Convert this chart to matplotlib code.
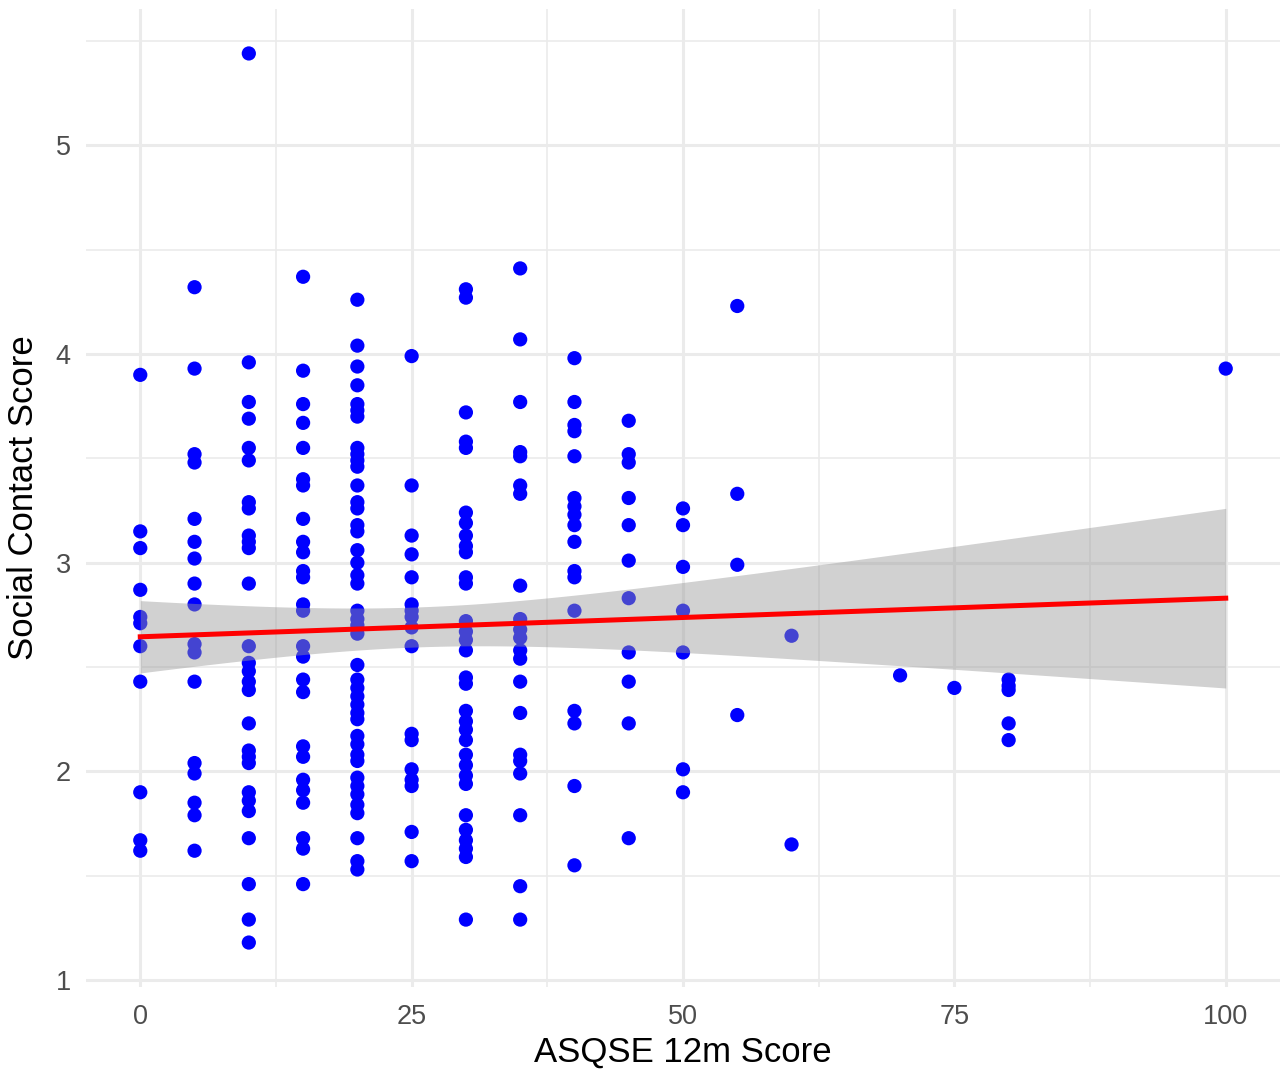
import numpy as np
import matplotlib
matplotlib.use("Agg")
import matplotlib.pyplot as plt
from matplotlib.ticker import MultipleLocator

# ASQSE 12m score levels and the Social Contact Scores observed at each level
asq_levels = [0, 5, 10, 15, 20, 25, 30, 35, 40, 45, 50, 55, 60, 70, 75, 80, 100]
scores_0 = [3.90, 3.15, 3.07, 2.87, 2.74, 2.71, 2.60, 2.43, 1.90, 1.67, 1.62]
scores_5 = [4.32, 3.93, 3.52, 3.48, 3.21, 3.10, 3.02, 2.90, 2.80, 2.61, 2.57, 2.43,
            2.04, 1.99, 1.85, 1.79, 1.62]
scores_10 = [5.44, 3.96, 3.77, 3.69, 3.55, 3.49, 3.29, 3.26, 3.13, 3.10, 3.07, 2.90,
             2.60, 2.52, 2.48, 2.43, 2.39, 2.23, 2.10, 2.07, 2.04, 1.90, 1.86, 1.81,
             1.68, 1.46, 1.29, 1.18]
scores_15 = [4.37, 3.92, 3.76, 3.67, 3.55, 3.40, 3.37, 3.21, 3.10, 3.05, 2.96, 2.93,
             2.80, 2.77, 2.60, 2.55, 2.44, 2.38, 2.12, 2.07, 1.96, 1.91, 1.85, 1.68,
             1.63, 1.46]
scores_20 = [4.26, 4.04, 3.94, 3.85, 3.76, 3.73, 3.70, 3.55, 3.52, 3.49, 3.46, 3.37,
             3.29, 3.26, 3.18, 3.15, 3.06, 3.00, 2.94, 2.90, 2.77, 2.73, 2.70, 2.66,
             2.51, 2.44, 2.40, 2.36, 2.32, 2.28, 2.25, 2.17, 2.13, 2.08, 2.05, 1.97,
             1.93, 1.89, 1.84, 1.80, 1.68, 1.57, 1.53]
scores_25 = [3.99, 3.37, 3.13, 3.04, 2.93, 2.80, 2.77, 2.74, 2.69, 2.60, 2.18, 2.15,
             2.01, 1.96, 1.93, 1.71, 1.57]
scores_30 = [4.31, 4.27, 3.72, 3.58, 3.55, 3.24, 3.19, 3.13, 3.08, 3.05, 2.93, 2.90,
             2.72, 2.67, 2.63, 2.58, 2.45, 2.42, 2.29, 2.24, 2.20, 2.15, 2.08, 2.03,
             1.98, 1.94, 1.79, 1.72, 1.67, 1.63, 1.59, 1.29]
scores_35 = [4.41, 4.07, 3.77, 3.53, 3.51, 3.37, 3.33, 2.89, 2.73, 2.68, 2.64, 2.58,
             2.54, 2.43, 2.28, 2.08, 2.05, 1.99, 1.79, 1.45, 1.29]
scores_40 = [3.98, 3.77, 3.66, 3.63, 3.51, 3.31, 3.27, 3.23, 3.18, 3.10, 2.96, 2.93,
             2.77, 2.29, 2.23, 1.93, 1.55]
scores_45 = [3.68, 3.52, 3.48, 3.31, 3.18, 3.01, 2.83, 2.57, 2.43, 2.23, 1.68]
scores_50 = [3.26, 3.18, 2.98, 2.77, 2.57, 2.01, 1.90]
scores_55 = [4.23, 3.33, 2.99, 2.27]
scores_60 = [2.65, 1.65]
scores_70 = [2.46]
scores_75 = [2.40]
scores_80 = [2.44, 2.41, 2.39, 2.23, 2.15]
scores_100 = [3.93]

score_groups = [scores_0, scores_5, scores_10, scores_15, scores_20, scores_25,
                scores_30, scores_35, scores_40, scores_45, scores_50, scores_55,
                scores_60, scores_70, scores_75, scores_80, scores_100]

# fitted line (value at x=0 and slope per score point)
fit_intercept = 2.645
fit_slope = 0.00185

x_ticks = [0, 25, 50, 75, 100]
y_ticks = [1, 2, 3, 4, 5]
x_title = "ASQSE 12m Score"
y_title = "Social Contact Score"

x = np.concatenate([[lv] * len(g) for lv, g in zip(asq_levels, score_groups)]).astype(float)
y = np.concatenate(score_groups).astype(float)

# 95% confidence band shape from the data's residual spread (geom_smooth lm style)
n = len(x)
b1, b0 = np.polyfit(x, y, 1)
resid = y - (b0 + b1 * x)
s = np.sqrt(np.sum(resid ** 2) / (n - 2))
xbar = x.mean()
sxx = np.sum((x - xbar) ** 2)
xf = np.linspace(x.min(), x.max(), 200)
yf = fit_intercept + fit_slope * xf
se = s * np.sqrt(1.0 / n + (xf - xbar) ** 2 / sxx)
tval = 1.97
lo, hi = yf - tval * se, yf + tval * se

plt.rcParams['font.family'] = ['Liberation Sans', 'DejaVu Sans']

fig = plt.figure(figsize=(12.81, 10.70), dpi=100)
ax = fig.add_axes([86 / 1281, 1 - 987 / 1070, (1280 - 86) / 1281, (987 - 9) / 1070])
ax.set_facecolor("white")

ax.scatter(x, y, s=105, color="#0000FF", edgecolors="none", zorder=3)
ax.fill_between(xf, lo, hi, color="#999999", alpha=0.45, linewidth=0, zorder=4)
ax.plot(xf, yf, color="#FF0000", linewidth=3.6, zorder=5)

xr = x.max() - x.min()
yr = y.max() - y.min()
ax.set_xlim(x.min() - 0.05 * xr, x.max() + 0.05 * xr)
ax.set_ylim(y.min() - 0.05 * yr, y.max() + 0.05 * yr)

ax.set_xticks(x_ticks)
ax.set_yticks(y_ticks)
ax.xaxis.set_minor_locator(MultipleLocator(12.5))
ax.yaxis.set_minor_locator(MultipleLocator(0.5))
ax.grid(which="major", color="#EBEBEB", linewidth=2.2, zorder=0)
ax.grid(which="minor", color="#EBEBEB", linewidth=1.2, zorder=0)
ax.set_axisbelow(True)
for sp in ax.spines.values():
    sp.set_visible(False)
ax.tick_params(which="both", length=0)
ax.tick_params(axis="x", labelsize=19.5, labelcolor="#4D4D4D", pad=12)
ax.tick_params(axis="y", labelsize=19.5, labelcolor="#4D4D4D", pad=11)

ax.set_xlabel(x_title, fontsize=25, color="black", labelpad=4)
ax.set_ylabel(y_title, fontsize=25, color="black", labelpad=11)

fig.savefig("out.png", dpi=100, facecolor="white")
